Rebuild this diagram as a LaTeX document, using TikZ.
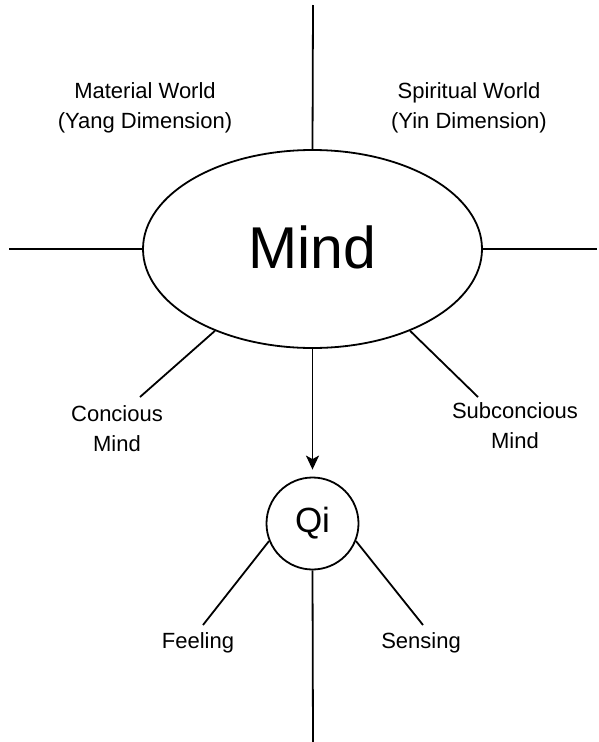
\documentclass[tikz,border=0pt]{standalone}
\usepackage{fontspec}
\setmainfont{Liberation Sans}
\usetikzlibrary{arrows.meta,shapes.geometric}
\begin{document}
\begin{tikzpicture}[x=1pt,y=-1pt,
  conn/.style={line width=1.8pt,black},
  lbl/.style={align=center,inner sep=0pt,font=\fontsize{22}{30}\selectfont},
  ell/.style={ellipse,draw,line width=1.8pt,minimum width=339pt,minimum height=198pt,inner sep=0pt,font=\fontsize{59}{59}\selectfont},
  circ/.style={circle,draw,line width=1.8pt,minimum size=92pt,inner sep=0pt,font=\fontsize{35}{35}\selectfont}]
\useasboundingbox (0,0) rectangle (598,742);
\node[ell] (mind) at (312.5,249) {\raisebox{4pt}{Mind}};
\node[circ] (qi) at (312.5,523.5) {\raisebox{-1pt}{Qi}};
\coordinate (top) at (313,5);
\coordinate (left) at (9,249);
\coordinate (right) at (597,249);
\coordinate (cl) at (140,397);
\coordinate (cr) at (478,397);
\coordinate (fl) at (203,625);
\coordinate (sr) at (423,625);
\coordinate (bot) at (313,742);
\draw[conn] (mind.north) -- (top);
\draw[conn] (mind.west) -- (left);
\draw[conn] (mind.east) -- (right);
\draw[conn] (mind.220) -- (cl);
\draw[conn] (mind.-40) -- (cr);
\draw[conn,-{Stealth[length=14pt,width=13pt,inset=3.5pt]},shorten >=7pt] (mind.south) -- (qi.north);
\draw[conn] (qi.202) -- (fl);
\draw[conn] (qi.-22) -- (sr);
\draw[conn] (qi.south) -- (bot);
\node[lbl] (mat) at (145,108) {Material World\\(Yang Dimension)};
\node[lbl] (spi) at (469,108) {Spiritual World\\(Yin Dimension)};
\node[lbl] (con) at (117,429) {Concious\\Mind};
\node[lbl] (sub) at (515,426) {Subconcious\\Mind};
\node[lbl] (fee) at (198,643) {Feeling};
\node[lbl] (sen) at (421,643) {Sensing};
\end{tikzpicture}
\end{document}
